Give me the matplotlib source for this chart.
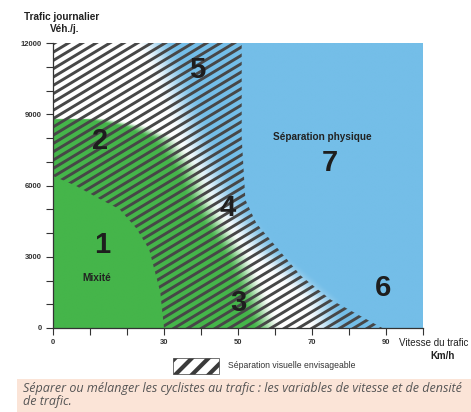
import matplotlib.pyplot as plt
import numpy as np
from matplotlib.collections import LineCollection
from matplotlib.patches import Polygon, Rectangle

plt.rcParams['font.family'] = ['Liberation Sans', 'DejaVu Sans']

# axes
x_ticks = [0, 10, 20, 30, 40, 50, 60, 70, 80, 90, 100]
x_labels = ['0', '', '', '30', '', '50', '', '70', '', '90', '']
y_ticks = list(range(0, 13000, 1000))
y_labels = ['0', '', '', '3000', '', '', '6000', '', '', '9000', '', '', '12000']

# zone edges (traffic veh/day -> speed km/h)
green_t = [0, 3000, 5400, 6600, 8000, 8500, 8800]
green_v = [58, 50, 40, 37, 30, 22, 12]
blue_t = [0, 1200, 3300, 5400, 8000, 10800, 12000]
blue_v = [80, 78, 62, 52, 44, 37, 33]

# hatched band (visual separation)
hatch_in_t = [6400, 6000, 5400, 5000, 4200, 3300, 1500, 0]
hatch_in_v = [0, 6, 13, 18, 22.5, 26, 29, 30]
hatch_out_t = [0, 1200, 2200, 3300, 4400, 5400, 8000, 12000]
hatch_out_v = [89, 75, 67, 61, 55, 52, 51, 51]

# zone numbers
zone_labels = ['1', '2', '3', '4', '5', '6', '7']
zone_v = [13.2, 12.7, 50, 47.3, 38.9, 89.2, 74.9]
zone_t = [3490, 7870, 1050, 5050, 10860, 1680, 6950]

green = np.array([69, 181, 74]) / 255
blue = np.array([116, 190, 232]) / 255
white = np.array([1.0, 1.0, 1.0])

fig = plt.figure(figsize=(4.71, 4.12), dpi=100)
ax = fig.add_axes([53 / 471, 1 - 328 / 412, 370 / 471, 285 / 412])
ax.set_xlim(0, 100)
ax.set_ylim(0, 12000)


def smooth(w):
    w = np.clip(w, 0, 1)
    return w * w * (3 - 2 * w)


# background colour field
V, T = np.meshgrid(np.linspace(0, 100, 600), np.linspace(0, 12000, 480))
gv = np.interp(T, green_t, green_v, right=-50)
wg = smooth((gv + 4 - V) / 8)
bv = np.interp(T, blue_t, blue_v)
wb = smooth((V - (bv - 11)) / 11)
wb = np.minimum(wb, 1 - wg)
rgb = (white[None, None, :] * (1 - wg - wb)[..., None]
       + green[None, None, :] * wg[..., None]
       + blue[None, None, :] * wb[..., None])
ax.imshow(rgb, extent=[0, 100, 0, 12000], origin='lower', aspect='auto',
          interpolation='bilinear', zorder=0)

# hatching clipped to the band
poly_pts = list(zip(hatch_in_v, hatch_in_t)) + list(zip(hatch_out_v, hatch_out_t)) + [(0, 12000)]
band = Polygon(poly_pts, closed=True, transform=ax.transData, facecolor='none', edgecolor='none')
ax.add_patch(band)

px_v = 370 / 100
px_t = 285 / 12000
k = np.tan(np.radians(31)) * px_v / px_t
step = 8.3 / px_t
segs = []
for c in np.arange(-k * 100, 12000 + step, step):
    segs.append([(0, c), (100, c + k * 100)])
lc = LineCollection(segs, colors='#474747', linewidths=2.1, zorder=2)
lc.set_clip_path(band)
ax.add_collection(lc)

# spines / ticks
for s in ['top', 'right']:
    ax.spines[s].set_visible(False)
for s in ['left', 'bottom']:
    ax.spines[s].set_color('#333333')
    ax.spines[s].set_linewidth(0.9)
ax.set_xticks(x_ticks)
ax.set_xticklabels(x_labels)
ax.set_yticks(y_ticks)
ax.set_yticklabels(y_labels)
ax.tick_params(length=5, width=0.8, color='#333333', labelsize=5.5, pad=3)
for lab in ax.get_xticklabels() + ax.get_yticklabels():
    lab.set_fontweight('bold')
    lab.set_color('#333333')

for lab, v, t in zip(zone_labels, zone_v, zone_t):
    ax.text(v, t, lab, fontsize=21, fontweight='bold', color='#1e1e1e',
            ha='center', va='center', zorder=3)
ax.text(11.9, 2100, 'Mixité', fontsize=7.3, fontweight='bold', color='#222222',
        ha='center', va='center', zorder=3)
ax.text(72.7, 8040, 'Séparation physique', fontsize=7.2, fontweight='bold',
        color='#222222', ha='center', va='center', zorder=3)

# axis titles
fig.text(62 / 471, 1 - 17 / 412, 'Trafic journalier', fontsize=7.2, fontweight='bold',
         color='#222222', ha='center', va='center')
fig.text(65 / 471, 1 - 29 / 412, 'Véh./j.', fontsize=7.2, fontweight='bold',
         color='#222222', ha='center', va='center')
fig.text(434 / 471, 1 - 343 / 412, 'Vitesse du trafic', fontsize=7, color='#222222',
         ha='center', va='center')
fig.text(443 / 471, 1 - 356 / 412, 'Km/h', fontsize=7, fontweight='bold',
         color='#222222', ha='center', va='center')

# legend swatch
plt.rcParams['hatch.linewidth'] = 3.0
fig.patches.append(Rectangle((173 / 471, 1 - 374 / 412), 46 / 471, 16 / 412,
                             transform=fig.transFigure, facecolor='white',
                             edgecolor='#3a3a3a', linewidth=0.5, hatch='//'))
fig.text(228 / 471, 1 - 366 / 412, 'Séparation visuelle envisageable', fontsize=6.2,
         color='#333333', ha='left', va='center')

# caption
fig.patches.append(Rectangle((17 / 471, 0), 1, 33 / 412, transform=fig.transFigure,
                             facecolor='#fbe4d7', edgecolor='none'))
fig.text(23 / 471, 1 - 382 / 412,
         'Séparer ou mélanger les cyclistes au trafic : les variables de vitesse et de densité\nde trafic.',
         fontsize=9.0, style='italic', color='#555555', ha='left', va='top',
         linespacing=1.05, family=['Open Sans', 'DejaVu Sans'])

fig.savefig('out.png', dpi=100)
